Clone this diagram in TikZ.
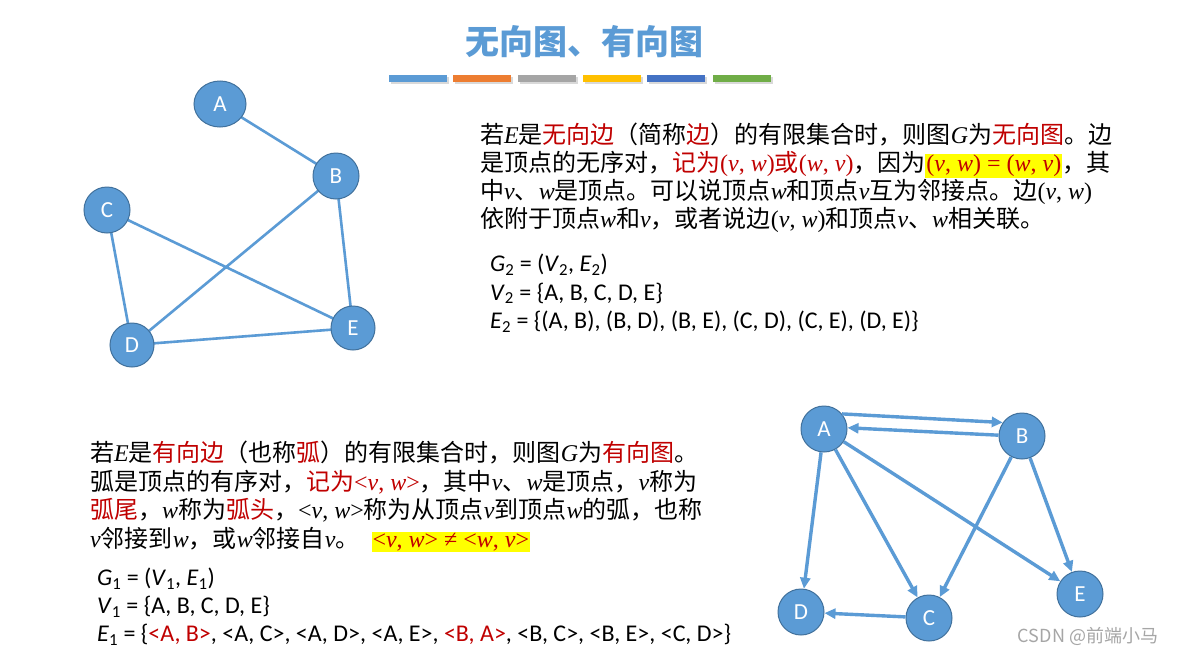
\documentclass[tikz,border=0pt]{standalone}
\usepackage{fontspec}
\setmainfont{Liberation Serif}
\setsansfont{Carlito}
\newfontfamily\cjk{Noto Sans CJK SC}
\usepackage{tikz}
\usetikzlibrary{arrows.meta,shapes.geometric}

\definecolor{nodeblue}{HTML}{5B9BD5}
\definecolor{nodeline}{HTML}{41719C}
\definecolor{darkred}{HTML}{C00000}
\definecolor{hlyellow}{HTML}{FFFF00}
\definecolor{bara}{HTML}{5B9BD5}
\definecolor{barb}{HTML}{ED7D31}
\definecolor{barc}{HTML}{A5A5A5}
\definecolor{bard}{HTML}{FFC000}
\definecolor{bare}{HTML}{4472C4}
\definecolor{barf}{HTML}{70AD47}

\newcommand{\iv}[1]{{\rmfamily\itshape #1}}
\newcommand{\pr}[2]{{\rmfamily(\textit{#1}, \textit{#2})}}
\newcommand{\ap}[2]{{\rmfamily<\textit{#1}, \textit{#2}>}}
\newcommand{\hlbox}[1]{{\setlength{\fboxsep}{1pt}\colorbox{hlyellow}{#1}}}
\newcommand{\redtxt}[1]{{\color{darkred}#1}}

\begin{document}
\begin{tikzpicture}[x=1pt,y=-1pt,
    vtx/.style={circle,fill=nodeblue,draw=nodeline,line width=1pt,minimum size=46,inner sep=0pt,
      text=white,font=\sffamily\fontsize{23}{26}\selectfont},
    uline/.style={nodeblue,line width=2.6pt},
    dline/.style={nodeblue,line width=3.4pt,-{Triangle[length=11pt,width=10pt]}},
    txt/.style={anchor=north west,align=left,inner sep=0pt}]
  \useasboundingbox[fill=white] (0,0) rectangle (1178,656);

  % title and colour bars
  \node[text=nodeblue,font=\cjk\bfseries\fontsize{34}{40}\selectfont] (title) at (584,42) {无向图、有向图};
  \foreach \x/\c in {389/bara,453/barb,518/barc,583/bard,647/bare,713/barf} {
    \fill[black!15] (\x+1.5,77) rectangle ++(58,7);
    \fill[\c] (\x,75) rectangle ++(58,7);
  }

  % undirected graph
  \draw[uline] (220,104) -- (336,176) (336,176) -- (132,345) (336,176) -- (353,328)
    (107,210) -- (132,345) (107,210) -- (353,328) (132,345) -- (353,328);
  \node[vtx,ellipse,minimum width=52,minimum height=46] (uA) at (220,104) {A};
  \node[vtx] (uB) at (336,176) {B};
  \node[vtx] (uC) at (107,210) {C};
  \node[vtx,minimum size=44] (uD) at (132,345) {D};
  \node[vtx,minimum size=44] (uE) at (353,328) {E};

  % directed graph
  \node[vtx] (lA) at (824,429) {A};
  \node[vtx] (lB) at (1022,436) {B};
  \node[vtx] (lC) at (929,618) {C};
  \node[vtx] (lD) at (801,612) {D};
  \node[vtx] (lE) at (1080,594) {E};
  \draw[dline] (lA.40) -- (lB.145);
  \draw[dline] (lB.178) -- (lA.3);
  \draw[dline] (lA) -- (lD);
  \draw[dline] (lA) -- (lC);
  \draw[dline] (lA) -- (lE);
  \draw[dline] (lB) -- (lC);
  \draw[dline] (lB) -- (lE);
  \draw[dline] (lC) -- (lD);

  % texts
  \node[txt,font=\cjk\fontsize{24}{28}\selectfont] (undir) at (480,123) {%
    若\iv{E}是\redtxt{无向边}（简称\redtxt{边}）的有限集合时，则图\iv{G}为\redtxt{无向图}。边\\
    是顶点的无序对，\redtxt{记为\pr{v}{w}或\pr{w}{v}}，因为\hlbox{\redtxt{\rmfamily(\textit{v}, \textit{w}) = (\textit{w}, \textit{v})}}，其\\
    中\iv{v}、\iv{w}是顶点。可以说顶点\iv{w}和顶点\iv{v}互为邻接点。边\pr{v}{w}\\
    依附于顶点\iv{w}和\iv{v}，或者说边\pr{v}{w}和顶点\iv{v}、\iv{w}相关联。};
  \node[txt,font=\sffamily\fontsize{24}{28.5}\selectfont] (set2) at (490,254) {%
    \textit{G}\textsubscript{2} = (\textit{V}\textsubscript{2}, \textit{E}\textsubscript{2})\\
    \textit{V}\textsubscript{2} = \{A, B, C, D, E\}\\
    \textit{E}\textsubscript{2} = \{(A, B), (B, D), (B, E), (C, D), (C, E), (D, E)\}};

  \node[txt,font=\cjk\fontsize{24}{28.5}\selectfont] (dir) at (90,441) {%
    若\iv{E}是\redtxt{有向边}（也称\redtxt{弧}）的有限集合时，则图\iv{G}为\redtxt{有向图}。\\
    弧是顶点的有序对，\redtxt{记为\ap{v}{w}}，其中\iv{v}、\iv{w}是顶点，\iv{v}称为\\
    \redtxt{弧尾}，\iv{w}称为\redtxt{弧头}，\ap{v}{w}称为从顶点\iv{v}到顶点\iv{w}的弧，也称\\
    \iv{v}邻接到\iv{w}，或\iv{w}邻接自\iv{v}。\hspace{12pt}\hlbox{\redtxt{\rmfamily<\textit{v}, \textit{w}> ≠ <\textit{w}, \textit{v}>}}};
  \node[txt,font=\sffamily\fontsize{24}{28}\selectfont] (set1) at (97,568) {%
    \textit{G}\textsubscript{1} = (\textit{V}\textsubscript{1}, \textit{E}\textsubscript{1})\\
    \textit{V}\textsubscript{1} = \{A, B, C, D, E\}\\
    \textit{E}\textsubscript{1} = \{\redtxt{<A, B>}, <A, C>, <A, D>, <A, E>, \redtxt{<B, A>}, <B, C>, <B, E>, <C, D>\}};

  \node[text=black!35,font=\cjk\fontsize{18}{20}\selectfont] (mark) at (1088,636) {CSDN @前端小马};
\end{tikzpicture}
\end{document}
